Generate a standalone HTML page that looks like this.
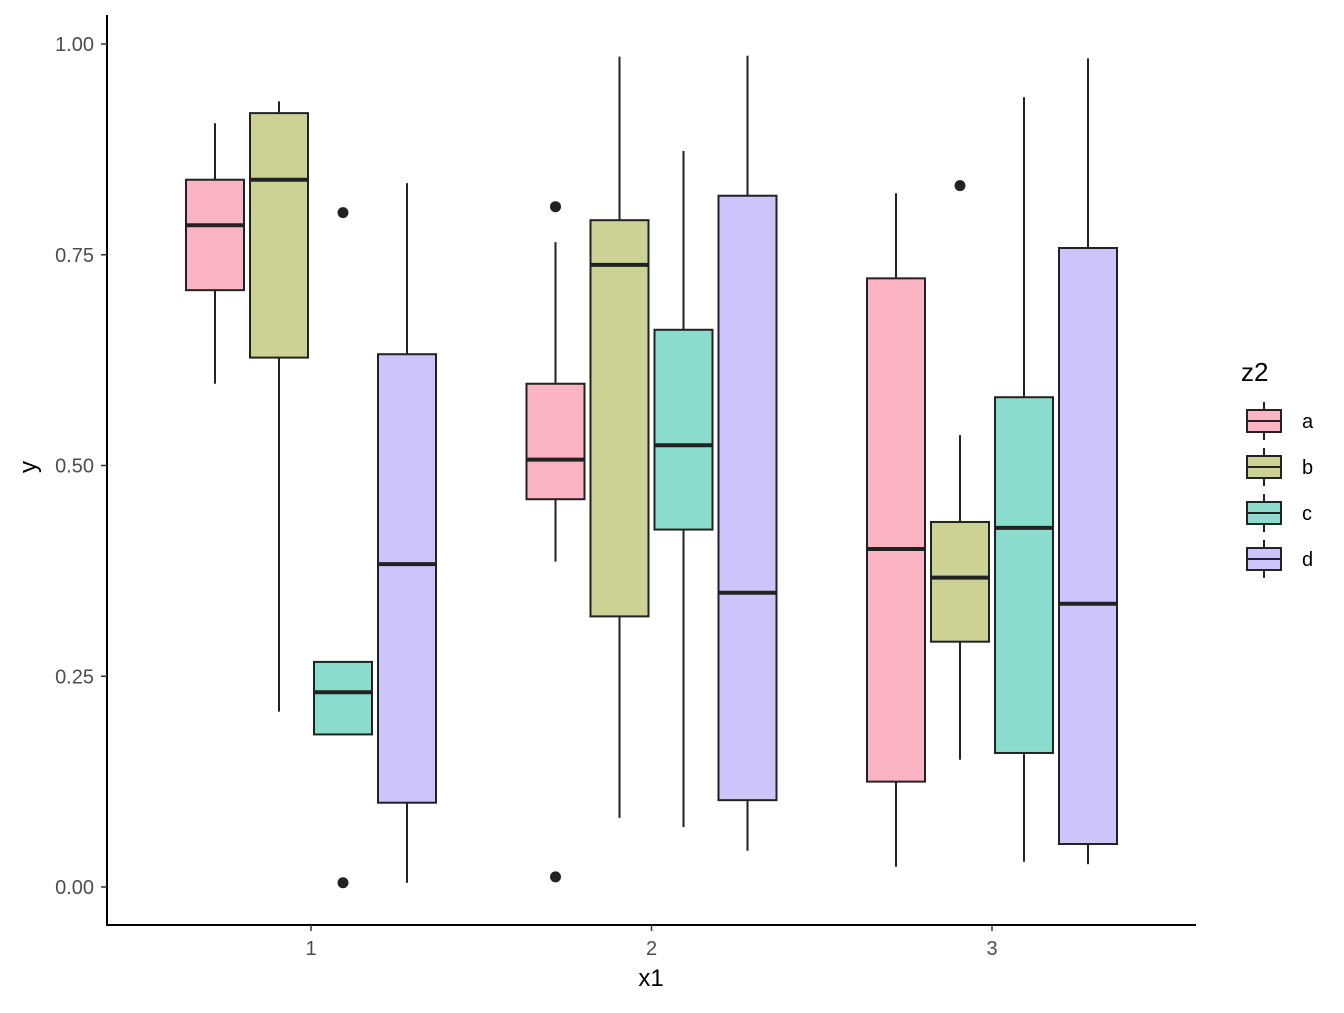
<!DOCTYPE html>
<html><head><meta charset="utf-8"><style>
body{margin:0;background:#fff;}
svg text{font-family:"Liberation Sans",sans-serif;}
</style></head><body>
<svg id="chart" width="1344" height="1008" xmlns="http://www.w3.org/2000/svg"></svg>
<script>
const groups = ["1","2","3"];
const subgroups = ["a","b","c","d"];
const colors = ["#FBB4C4","#CBD294","#8ADDCC","#CCC4FA"];
const yTicks = [0,0.25,0.5,0.75,1.0];
const yTickLabels = ["0.00","0.25","0.50","0.75","1.00"];
// per group, per subgroup: [lowerWhisker, q1, median, q3, upperWhisker]
const stats1 = [[0.597,0.708,0.785,0.839,0.906],[0.208,0.628,0.839,0.918,0.932],[0.181,0.181,0.231,0.267,0.267],[0.005,0.100,0.383,0.632,0.835]];
const stats2 = [[0.386,0.460,0.507,0.597,0.765],[0.082,0.321,0.738,0.791,0.985],[0.071,0.424,0.524,0.661,0.873],[0.043,0.103,0.349,0.820,0.986]];
const stats3 = [[0.024,0.125,0.401,0.722,0.823],[0.151,0.291,0.367,0.433,0.536],[0.030,0.159,0.426,0.581,0.937],[0.027,0.051,0.336,0.758,0.983]];
const outliers1 = [[],[],[0.800,0.005],[]];
const outliers2 = [[0.807,0.012],[],[],[]];
const outliers3 = [[],[0.832],[],[]];
const allStats=[stats1,stats2,stats3], allOut=[outliers1,outliers2,outliers3];

const NS="http://www.w3.org/2000/svg", svg=document.getElementById('chart');
const y=v=>887-v*843;
const x=i=>311+i*340.5;
function mk(t,a,p){const e=document.createElementNS(NS,t);for(const k in a)e.setAttribute(k,a[k]);(p||svg).appendChild(e);return e;}

let e=mk('line',{x1:107,y1:15,x2:107,y2:925.5,stroke:'#000','stroke-width':2});


e=mk('line',{x1:106,y1:925,x2:1196,y2:925,stroke:'#000','stroke-width':2});


yTicks.forEach((v,i)=>{
  mk('line',{x1:101,x2:107,y1:y(v),y2:y(v),stroke:'#333','stroke-width':1.5});
  const t=mk('text',{x:94,y:y(v)+7,'text-anchor':'end','font-size':20,fill:'#4d4d4d'});t.textContent=yTickLabels[i];
  
  
});
groups.forEach((g,i)=>{
  mk('line',{x1:x(i),x2:x(i),y1:925,y2:931,stroke:'#333','stroke-width':1.5});
  const t=mk('text',{x:x(i),y:955,'text-anchor':'middle','font-size':20,fill:'#4d4d4d'});t.textContent=g;
  
  
});
let t=mk('text',{x:651,y:986,'text-anchor':'middle','font-size':24});t.textContent='x1';


t=mk('text',{x:36,y:467,'text-anchor':'middle','font-size':24,transform:'rotate(-90 36 467)'});t.textContent='y';



const offs=[-96,-32,32,96], hw=29;
allStats.forEach((st,gi)=>{
  st.forEach((s,si)=>{
    const cx=x(gi)+offs[si];
    const grp=mk('g',{});
    
    
    mk('line',{x1:cx,x2:cx,y1:y(s[4]),y2:y(s[3]),stroke:'#222','stroke-width':2},grp);
    mk('line',{x1:cx,x2:cx,y1:y(s[1]),y2:y(s[0]),stroke:'#222','stroke-width':2},grp);
    mk('rect',{x:cx-hw,y:y(s[3]),width:2*hw,height:y(s[1])-y(s[3]),fill:colors[si],stroke:'#222','stroke-width':2},grp);
    mk('line',{x1:cx-hw,x2:cx+hw,y1:y(s[2]),y2:y(s[2]),stroke:'#222','stroke-width':4},grp);
    allOut[gi][si].forEach(o=>{
      const c=mk('circle',{cx:cx,cy:y(o),r:5.5,fill:'#222'},grp);
      
      
    });
  });
});

t=mk('text',{x:1241,y:381,'font-size':26});t.textContent='z2';


subgroups.forEach((s,i)=>{
  const cy=421+i*46;
  const g=mk('g',{});
  
  
  mk('line',{x1:1264,x2:1264,y1:cy-19,y2:cy+19,stroke:'#222','stroke-width':2},g);
  mk('rect',{x:1247,y:cy-11,width:34,height:22,fill:colors[i],stroke:'#222','stroke-width':2},g);
  mk('line',{x1:1247,x2:1281,y1:cy,y2:cy,stroke:'#222','stroke-width':2},g);
  const tt=mk('text',{x:1302,y:cy+7,'font-size':20},g);tt.textContent=s;
});
</script>
</body></html>
